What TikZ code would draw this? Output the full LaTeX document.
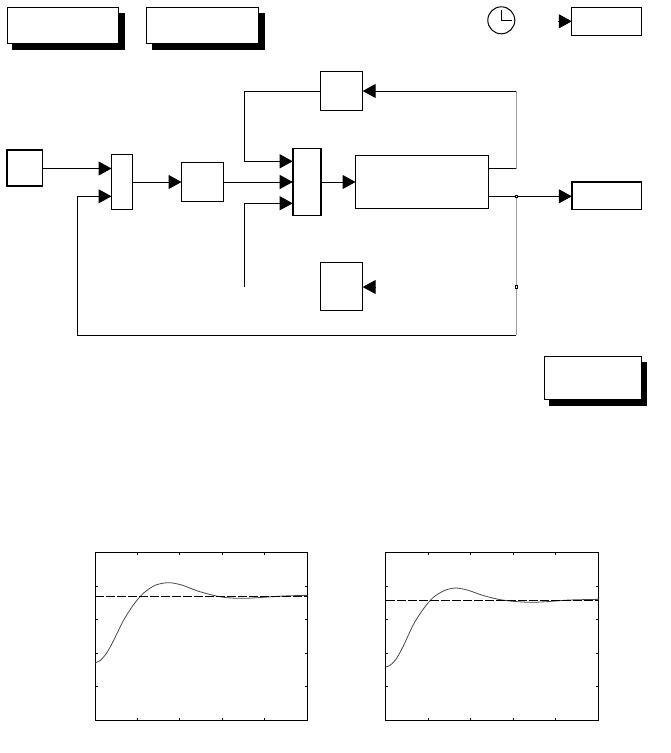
\documentclass[tikz,border=0pt]{standalone}
\usetikzlibrary{arrows.meta}
\newcommand{\blk}[6][]{\node[blockbox,#1,minimum width={(#5)*1pt-(#3)*1pt},minimum height={(#6)*1pt-(#4)*1pt}] (#2) at ({((#3)+(#5))/2},{((#4)+(#6))/2}) {};}
\newcommand{\shd}[5]{\blk[shadowfill]{#1s}{#2+5.5}{#3+6}{#4+5.5}{#5+6}\blk{#1}{#2}{#3}{#4}{#5}}
\tikzset{
  blockbox/.style={draw=black,fill=white,line width=1pt,inner sep=0pt,outer sep=0pt,rectangle},
  thickbox/.style={line width=1.7pt},
  heavyedge/.style={draw=black,line width=1.7pt,line cap=rect},
  shadowfill/.style={fill=black},
  sig/.style={draw=black,line width=1pt},
  sigarrow/.style={sig,-{Triangle[length=13pt,width=14pt]},shorten >=0pt},
  grayline/.style={draw=black!38,line width=1pt},
  tap/.style={draw=black,fill=white,line width=.8pt,inner sep=0pt,outer sep=0pt,minimum width=2.4pt,minimum height=2.4pt,rectangle},
  axesbox/.style={draw=black,line width=.9pt,inner sep=0pt,outer sep=0pt,rectangle},
  tickline/.style={draw=black,line width=.7pt},
  curveline/.style={draw=black!72,line width=.8pt,smooth,line join=round},
  refline/.style={draw=black,line width=.9pt,dash pattern=on 9pt off 2pt},
}
\begin{document}
\begin{tikzpicture}[x=1pt,y=-1pt]
\useasboundingbox (0,0) rectangle (671,753);
\fill[white] (0,0) rectangle (671,753);
% shadowed boxes
\shd{ta}{7}{7.5}{118.5}{43.5}
\shd{tb}{146.5}{7.5}{258.5}{43.5}
\shd{tc}{544}{356.5}{641}{399.5}
% clock
\node[draw=black,line width=1pt,circle,minimum size=27pt,inner sep=0pt,outer sep=0pt] (clock) at (501.3,20.3) {};
\coordinate (handtop) at (501,10);
\coordinate (handmid) at (501,20.5);
\coordinate (handend) at (511.5,20.5);
\draw[sig,line width=.8pt] (handtop) -- (handmid) -- (handend);
% blocks
\blk{clk}{571.8}{7.5}{641.3}{35}
\draw[heavyedge,line width=1.3pt] (clk.south west) -- (clk.north west);
\blk[thickbox]{src}{7}{150}{42.5}{186}
\blk{sum}{111.5}{154.5}{132.5}{209.5}
\blk{ctl}{181.5}{162.5}{223.5}{201.5}
\blk{mux}{292.7}{148.5}{321}{215.5}
\draw[heavyedge] (mux.north west) -- (mux.south west);
\draw[heavyedge] (mux.north east) -- (mux.south east);
\blk{fb}{320.7}{71.5}{362.7}{110}
\blk{plant}{355.5}{155.5}{488.5}{208.5}
\blk{out}{571.8}{182}{641.3}{209}
\draw[heavyedge] (out.south west) -- (out.north west) -- (out.north east);
\blk{dist}{320.7}{262}{362.7}{310.5}
% ports and corners
\coordinate (clkin) at (571.8,21.3);
\coordinate (clktail) at (558,21.3);
\coordinate (suma) at (111.5,168.5);
\coordinate (sumb) at (111.5,196.3);
\coordinate (srcout) at (42.5,168.5);
\coordinate (muxa) at (292.7,161.3);
\coordinate (muxc) at (292.7,203.3);
\coordinate (fbout) at (320.7,91);
\coordinate (fbin) at (362.7,91);
\coordinate (distin) at (362.7,287);
\coordinate (disttail) at (376,287);
\coordinate (freeend) at (244.7,287);
\coordinate (planta) at (488.5,168.5);
\coordinate (plantb) at (488.5,196.3);
\coordinate (outin) at (571.8,196.3);
\coordinate (branch) at (516.3,91);
\coordinate (branchb) at (516.3,168.5);
\coordinate (low) at (516.3,335.3);
\coordinate (lowleft) at (77.3,335.3);
% connectors
\draw[sigarrow] (clktail) -- (clkin);
\draw[sigarrow] (srcout) -- (suma);
\draw[sigarrow] (sum.east) -- (ctl.west);
\draw[sigarrow] (ctl.east) -- (ctl.east -| mux.west);
\draw[sigarrow] (mux.east) -- (plant.west);
\draw[sigarrow] (fbout) -| (244.7,120) |- (muxa);
\draw[sigarrow] (freeend) |- (muxc);
\draw[grayline] (branch) -- (branchb);
\draw[sig] (planta) -- (branchb);
\draw[sigarrow] (branch) -- (fbin);
\draw[sigarrow] (plantb) -- (outin);
\draw[grayline] (plantb -| low) -- (low);
\draw[sig] (low) -- (lowleft);
\draw[sigarrow] (lowleft) |- (sumb);
\draw[sigarrow] (disttail) -- (distin);
\node[tap] (tapa) at (516.3,196.3) {};
\node[tap] (tapb) at (516.3,287) {};
% left plot
\node[axesbox,minimum width=212pt,minimum height=168pt] (pa) at (201.4,636.3) {};
\foreach \x in {137.7,179.7,222.7,264.3}{
  \draw[tickline] (\x,552.3) -- (\x,554.5);
  \draw[tickline] (\x,720.3) -- (\x,718.1);}
\foreach \y in {586.7,619.3,653.3,686}{
  \draw[tickline] (95.4,\y) -- (97.6,\y);
  \draw[tickline] (307.4,\y) -- (305.2,\y);}
\begin{scope}[shift={(80,540)},x=.3333pt,y=-.3333pt]
\draw[curveline] plot coordinates {(46,368)(60,362)(78,342)(100,303)(130,242)(160,195)(190,160)(225,136)(265,128)(305,135)(350,152)(400,166)(440,173)(490,175)(550,172)(610,168)(682,166)};
\draw[refline] (46,169) -- (682,169);
\end{scope}
% right plot
\node[axesbox,minimum width=212.6pt,minimum height=168pt] (pb) at (492,636.3) {};
\foreach \x in {428.7,470.3,513.3,555.3}{
  \draw[tickline] (\x,552.3) -- (\x,554.5);
  \draw[tickline] (\x,720.3) -- (\x,718.1);}
\foreach \y in {586.7,619.3,653.3,686}{
  \draw[tickline] (385.7,\y) -- (387.9,\y);
  \draw[tickline] (598.3,\y) -- (596.1,\y);}
\begin{scope}[shift={(370,540)},x=.3333pt,y=-.3333pt]
\draw[curveline] plot coordinates {(47,381)(60,376)(78,358)(100,318)(130,254)(160,207)(190,172)(225,151)(258,144)(295,151)(335,165)(385,178)(430,184)(480,187)(530,185)(600,180)(685,178)};
\draw[refline] (47,181) -- (685,181);
\end{scope}
\end{tikzpicture}
\end{document}
